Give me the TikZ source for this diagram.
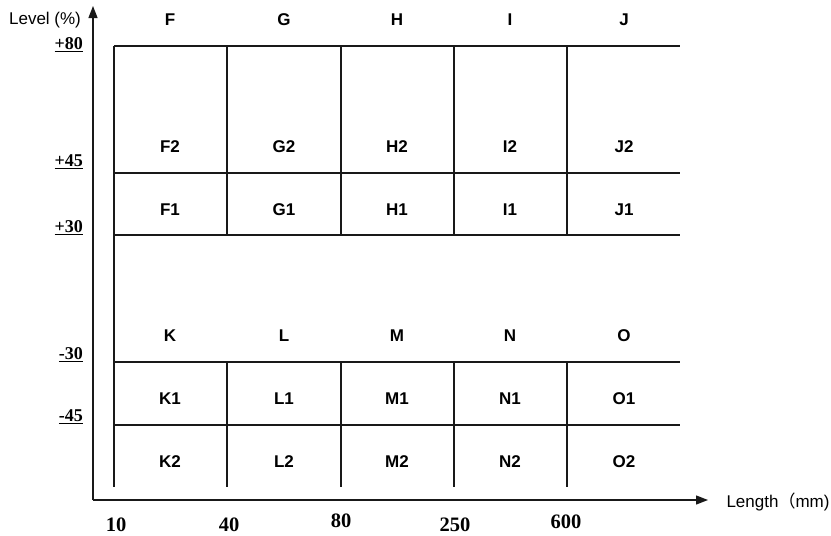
\documentclass[tikz,border=0pt]{standalone}
\usepackage{fontspec}
\setmainfont{Liberation Sans}
\newfontfamily\numfont{Liberation Serif}
\newfontfamily\cjk{Noto Sans CJK SC}
\usetikzlibrary{arrows.meta}
\tikzset{
  gridline/.style={line width=1.3pt, black!90},
  axisline/.style={line width=1.3pt, black!90, -{Triangle[length=12pt,width=9pt]}},
  cell/.style={font=\fontsize{17}{17}\selectfont\bfseries, inner sep=0pt},
  ylab/.style={font=\fontsize{18}{18}\numfont\bfseries, anchor=east, inner sep=0pt},
  xlab/.style={font=\fontsize{20.5}{20.5}\numfont\bfseries, inner sep=0pt},
  axtitle/.style={font=\fontsize{17}{17}\selectfont, inner sep=0pt}
}
\begin{document}
\begin{tikzpicture}[x=1pt,y=-1pt]
\useasboundingbox (0,0) rectangle (831,536);
% axes
\coordinate (O) at (93,500);
\coordinate (Ytip) at (93,6);
\coordinate (Xtip) at (708,500);
\draw[axisline] (O) -- (Ytip);
\draw[axisline] (O) -- (Xtip);
% horizontal lines
\foreach \y in {46,173,235,362,425} \draw[gridline] (114,\y) -- (680,\y);
% left vertical
\draw[gridline] (114,46) -- (114,487);
% inner verticals
\foreach \x in {227,341,454,567} {
  \draw[gridline] (\x,46) -- (\x,235);
  \draw[gridline] (\x,362) -- (\x,487);
}
% cell labels
\foreach \l/\x in {F/170,G/284,H/397,I/510,J/624} {
  \node[cell] (t\l) at (\x,20) {\l};
  \node[cell] (\l2) at (\x,147) {\l2};
  \node[cell] (\l1) at (\x,210) {\l1};
}
\foreach \l/\x in {K/170,L/284,M/397,N/510,O/624} {
  \node[cell] (\l) at (\x,336) {\l};
  \node[cell] (\l1) at (\x,399) {\l1};
  \node[cell] (\l2) at (\x,462) {\l2};
}
% y labels
\node[ylab] (y80) at (83,45) {\underline{+80}};
\node[ylab] (y45) at (83,162) {\underline{+45}};
\node[ylab] (y30) at (83,228) {\underline{+30}};
\node[ylab] (ym30) at (83,355) {\underline{-30}};
\node[ylab] (ym45) at (83,417) {\underline{-45}};
% x labels
\node[xlab] (x10) at (116,525) {10};
\node[xlab] (x40) at (229,525) {40};
\node[xlab] (x80) at (341,521) {80};
\node[xlab] (x250) at (455,525) {250};
\node[xlab] (x600) at (566,522) {600};
% axis titles
\node[axtitle] (ytitle) at (45,20) {Level (\%)};
\node[axtitle] (xtitle) at (778,502) {Length{\cjk （}mm)};
\end{tikzpicture}
\end{document}
